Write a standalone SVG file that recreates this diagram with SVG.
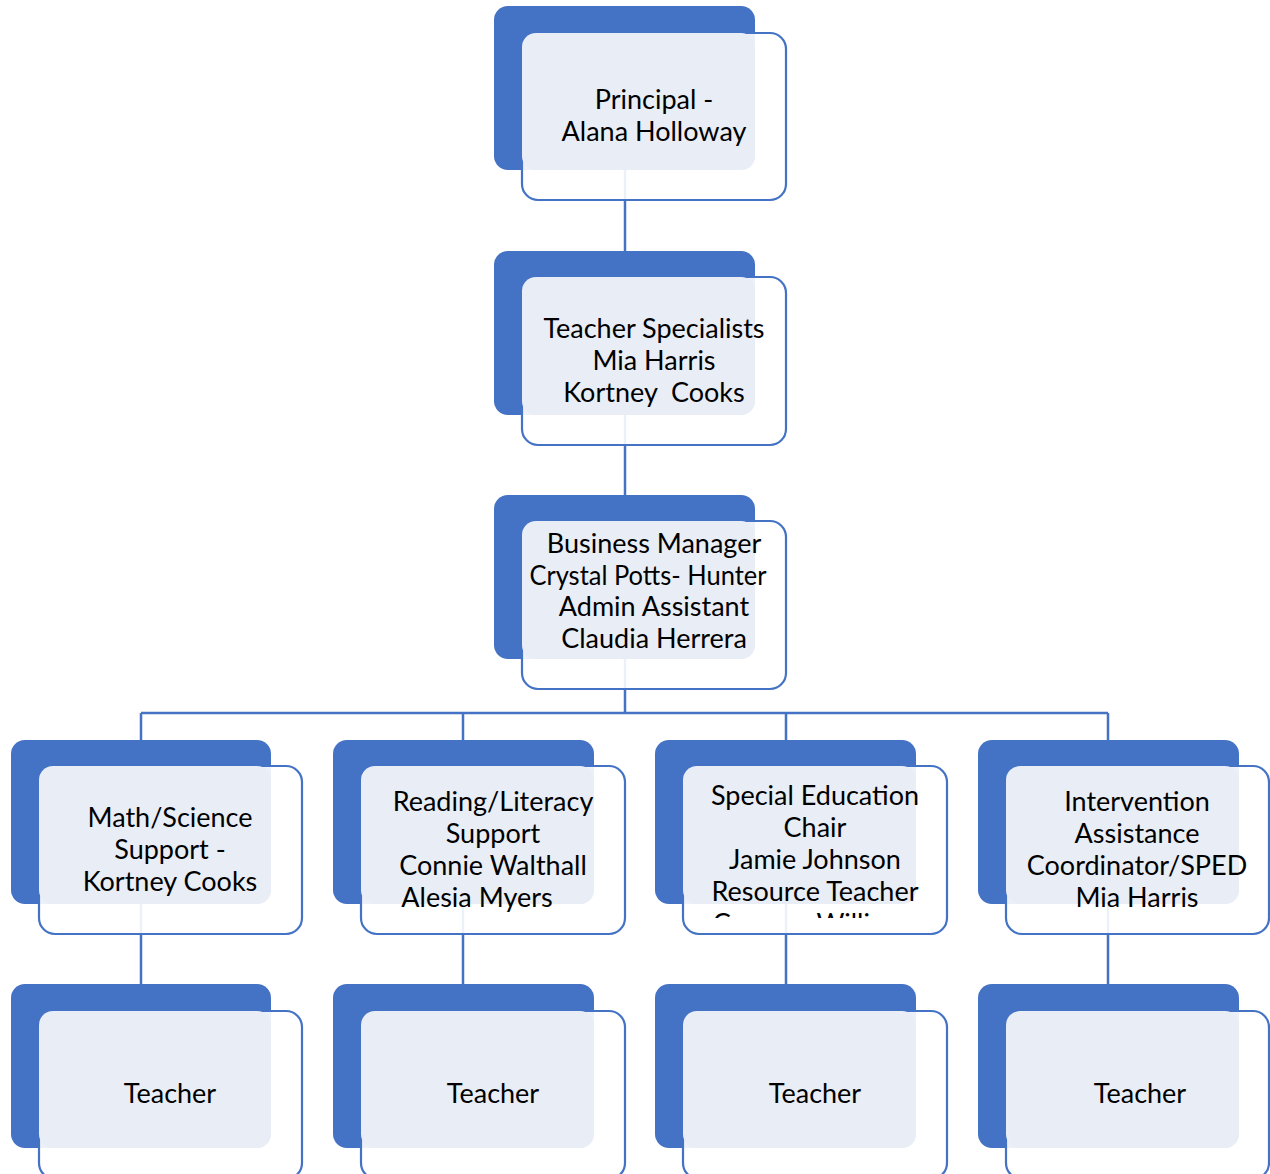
<svg xmlns="http://www.w3.org/2000/svg" width="1270" height="1174" viewBox="0 0 1270 1174">
<style>
.back{fill:#4472c4}
.front{fill:#ffffff;fill-opacity:0.9;stroke:#4472c4;stroke-width:2.2}
.light{fill:#e9edf6}
.conn{stroke:#4472c4;stroke-width:2.5;fill:none}
text{font-family:Lato,"Liberation Sans",sans-serif;font-size:27px;fill:#000;text-anchor:middle}
</style>
<defs>
<clipPath id="clipSped"><rect x="683" y="766" width="264" height="152"/></clipPath>
</defs>
<rect width="1270" height="1174" fill="#ffffff"/>
<g id="backs">
<rect class="back" x="494" y="6" width="261" height="164" rx="14"/>
<rect class="back" x="494" y="251" width="261" height="164" rx="14"/>
<rect class="back" x="494" y="495" width="261" height="164" rx="14"/>
<rect class="back" x="11" y="740" width="260" height="164" rx="14"/>
<rect class="back" x="333" y="740" width="261" height="164" rx="14"/>
<rect class="back" x="655" y="740" width="261" height="164" rx="14"/>
<rect class="back" x="978" y="740" width="261" height="164" rx="14"/>
<rect class="back" x="11" y="984" width="260" height="164" rx="14"/>
<rect class="back" x="333" y="984" width="261" height="164" rx="14"/>
<rect class="back" x="655" y="984" width="261" height="164" rx="14"/>
<rect class="back" x="978" y="984" width="261" height="164" rx="14"/>
</g>
<g id="connectors">
<path class="conn" d="M625 170V251"/>
<path class="conn" d="M625 415V495"/>
<path class="conn" d="M625 659V713M141 713H1108M141 713V740M463 713V740M786 713V740M1108 713V740"/>
<path class="conn" d="M141 904V984M463 904V984M786 904V984M1108 904V984"/>
</g>
<g id="node-principal">
<rect class="front" x="522" y="33" width="264" height="167" rx="16"/>
<rect class="light" x="522" y="33" width="233" height="137" rx="14"/>
<text x="654" y="109">Principal -</text>
<text x="654" y="141">Alana Holloway</text>
</g>
<g id="node-specialists">
<rect class="front" x="522" y="277" width="264" height="168" rx="16"/>
<rect class="light" x="522" y="277" width="233" height="138" rx="14"/>
<text x="654" y="338">Teacher Specialists</text>
<text x="654" y="370">Mia Harris</text>
<text x="654" y="402" xml:space="preserve">Kortney  Cooks</text>
</g>
<g id="node-business">
<rect class="front" x="522" y="521" width="264" height="168" rx="16"/>
<rect class="light" x="522" y="521" width="233" height="138" rx="14"/>
<text x="654" y="553">Business Manager</text>
<text x="648" y="585" textLength="237" lengthAdjust="spacingAndGlyphs">Crystal Potts- Hunter</text>
<text x="654" y="616">Admin Assistant</text>
<text x="654" y="648">Claudia Herrera</text>
</g>
<g id="node-math">
<rect class="front" x="39" y="766" width="263" height="168" rx="16"/>
<rect class="light" x="39" y="766" width="232" height="138" rx="14"/>
<text x="170" y="827">Math/Science</text>
<text x="170" y="859">Support -</text>
<text x="170" y="891">Kortney Cooks</text>
</g>
<g id="node-reading">
<rect class="front" x="361" y="766" width="264" height="168" rx="16"/>
<rect class="light" x="361" y="766" width="233" height="138" rx="14"/>
<text x="493" y="811">Reading/Literacy</text>
<text x="493" y="843">Support</text>
<text x="493" y="875">Connie Walthall</text>
<text x="477" y="907">Alesia Myers</text>
</g>
<g id="node-sped">
<rect class="front" x="683" y="766" width="264" height="168" rx="16"/>
<rect class="light" x="683" y="766" width="233" height="138" rx="14"/>
<g clip-path="url(#clipSped)">
<text x="815" y="805">Special Education</text>
<text x="815" y="837">Chair</text>
<text x="815" y="869">Jamie Johnson</text>
<text x="815" y="901">Resource Teacher</text>
<text x="815" y="933">Crump - Williams</text>
</g>
</g>
<g id="node-intervention">
<rect class="front" x="1006" y="766" width="263" height="168" rx="16"/>
<rect class="light" x="1006" y="766" width="233" height="138" rx="14"/>
<text x="1137" y="811">Intervention</text>
<text x="1137" y="843">Assistance</text>
<text x="1137" y="875">Coordinator/SPED</text>
<text x="1137" y="907">Mia Harris</text>
</g>
<g id="node-teacher1">
<rect class="front" x="39" y="1011" width="263" height="168" rx="16"/>
<rect class="light" x="39" y="1011" width="232" height="137" rx="14"/>
<text x="170" y="1103">Teacher</text>
</g>
<g id="node-teacher2">
<rect class="front" x="361" y="1011" width="264" height="168" rx="16"/>
<rect class="light" x="361" y="1011" width="233" height="137" rx="14"/>
<text x="493" y="1103">Teacher</text>
</g>
<g id="node-teacher3">
<rect class="front" x="683" y="1011" width="264" height="168" rx="16"/>
<rect class="light" x="683" y="1011" width="233" height="137" rx="14"/>
<text x="815" y="1103">Teacher</text>
</g>
<g id="node-teacher4">
<rect class="front" x="1006" y="1011" width="263" height="168" rx="16"/>
<rect class="light" x="1006" y="1011" width="233" height="137" rx="14"/>
<text x="1140" y="1103">Teacher</text>
</g>
</svg>
